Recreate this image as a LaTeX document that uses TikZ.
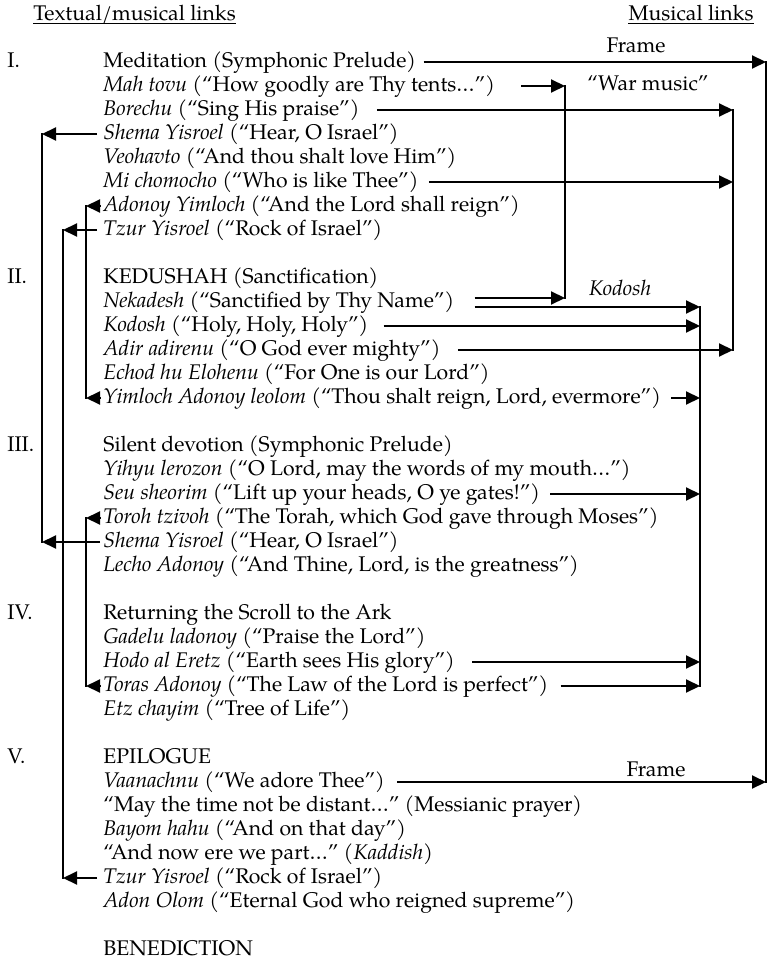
\documentclass[tikz,border=0pt]{standalone}
\usepackage{fontspec}
\setmainfont{TeX Gyre Pagella}
\usetikzlibrary{arrows.meta}
\begin{document}
\begin{tikzpicture}[x=0.5pt,y=-0.5pt,
  txt/.style={anchor=west,inner sep=0pt,text height=7.95pt,text depth=2.65pt,font=\fontsize{10.6}{12.5}\selectfont},
  lab/.style={inner sep=0pt,font=\fontsize{10.6}{12.5}\selectfont},
  ln/.style={line width=1pt,line cap=rect},
  arr/.style={line width=1pt,-{Triangle[length=7pt,width=6.5pt]}},
  uline/.style={line width=0.5pt}
]
\path[use as bounding box] (0,0) rectangle (769,962);
% headers
\node[txt] (hL) at (33,15) {Textual/musical links};
\node[txt,anchor=east] (hR) at (754,15) {Musical links};
\draw[uline] ([yshift=-1.7pt]hL.base west) -- ([yshift=-1.7pt]hL.base east);
\draw[uline] ([yshift=-1.7pt]hR.base west) -- ([yshift=-1.7pt]hR.base east);
% roman numerals
\node[txt] (nI) at (7,62) {I.};
\node[txt] (nII) at (7,278) {II.};
\node[txt] (nIII) at (7,446) {III.};
\node[txt] (nIV) at (7,614) {IV.};
\node[txt] (nV) at (7,758) {V.};
% text lines
\node[txt] (med) at (103,62) {Meditation (Symphonic Prelude)};
\node[txt] (mah) at (103,86) {\textit{Mah tovu} (“How goodly are Thy tents…”)};
\node[txt] (bor) at (103,110) {\textit{Borechu} (“Sing His praise”)};
\node[txt] (shA) at (103,134) {\textit{Shema Yisroel} (“Hear, O Israel”)};
\node[txt] (veo) at (103,158) {\textit{Veohavto} (“And thou shalt love Him”)};
\node[txt] (mi) at (103,182) {\textit{Mi chomocho} (“Who is like Thee”)};
\node[txt] (adY) at (103,206) {\textit{Adonoy Yimloch} (“And the Lord shall reign”)};
\node[txt] (tzA) at (103,230) {\textit{Tzur Yisroel} (“Rock of Israel”)};
\node[txt] (ked) at (103,278) {KEDUSHAH (Sanctification)};
\node[txt] (nek) at (103,302) {\textit{Nekadesh} (“Sanctified by Thy Name”)};
\node[txt] (kod) at (103,326) {\textit{Kodosh} (“Holy, Holy, Holy”)};
\node[txt] (adir) at (103,350) {\textit{Adir adirenu} (“O God ever mighty”)};
\node[txt] (echod) at (103,374) {\textit{Echod hu Elohenu} (“For One is our Lord”)};
\node[txt] (yiml) at (103,398) {\textit{Yimloch Adonoy leolom} (“Thou shalt reign, Lord, evermore”)};
\node[txt] (sil) at (103,446) {Silent devotion (Symphonic Prelude)};
\node[txt] (yih) at (103,470) {\textit{Yihyu lerozon} (“O Lord, may the words of my mouth…”)};
\node[txt] (seu) at (103,494) {\textit{Seu sheorim} (“Lift up your heads, O ye gates!”)};
\node[txt] (tor) at (103,518) {\textit{Toroh tzivoh} (“The Torah, which God gave through Moses”)};
\node[txt] (shB) at (103,542) {\textit{Shema Yisroel} (“Hear, O Israel”)};
\node[txt] (lec) at (103,566) {\textit{Lecho Adonoy} (“And Thine, Lord, is the greatness”)};
\node[txt] (ret) at (103,614) {Returning the Scroll to the Ark};
\node[txt] (gad) at (103,638) {\textit{Gadelu ladonoy} (“Praise the Lord”)};
\node[txt] (hodo) at (103,662) {\textit{Hodo al Eretz} (“Earth sees His glory”)};
\node[txt] (toras) at (103,686) {\textit{Toras Adonoy} (“The Law of the Lord is perfect”)};
\node[txt] (etz) at (103,710) {\textit{Etz chayim} (“Tree of Life”)};
\node[txt] (epi) at (103,758) {EPILOGUE};
\node[txt] (vaa) at (103,782) {\textit{Vaanachnu} (“We adore Thee”)};
\node[txt] (may) at (103,806) {“May the time not be distant…” (Messianic prayer)};
\node[txt] (bay) at (103,830) {\textit{Bayom hahu} (“And on that day”)};
\node[txt] (now) at (103,854) {“And now ere we part…” (\textit{Kaddish})};
\node[txt] (tzB) at (103,878) {\textit{Tzur Yisroel} (“Rock of Israel”)};
\node[txt] (adon) at (103,902) {\textit{Adon Olom} (“Eternal God who reigned supreme”)};
\node[txt] (ben) at (103,950) {BENEDICTION};
% labels on the right
\node[lab,anchor=base] (frT) at (636,53) {Frame};
\node[lab,anchor=base] (frB) at (656,776) {Frame};
\node[lab,anchor=base] (war) at (648,91) {“War music”};
\node[lab,anchor=base] (kodl) at (620,296) {\textit{Kodosh}};
% vertical guide coordinates
\coordinate (F) at (766,0);
\coordinate (W) at (565,0);
\coordinate (K) at (700,0);
\coordinate (B) at (733,0);
\coordinate (LA) at (42,0);
\coordinate (LB) at (63,0);
\coordinate (LC) at (86,0);
\coordinate (nekU) at ([yshift=2pt]nek.east);
\coordinate (nekL) at ([yshift=-2.5pt]nek.east);
% Frame
\draw[arr] ([xshift=3.5pt]med.east) -- (med.east -| F);
\draw[arr] ([xshift=6pt]vaa.east) -- (vaa.east -| F);
\draw[ln] (med.east -| F) -- (vaa.east -| F);
% War music
\draw[arr] ([xshift=13pt]mah.east) -- (mah.east -| W);
\draw[arr] ([xshift=10pt]nekU) -- (nekU -| W);
\draw[ln] (mah.east -| W) -- (nekU -| W);
% Kodosh
\draw[arr] ([xshift=10pt]nekL) -- (nekL -| K);
\draw[arr] ([xshift=7.5pt]kod.east) -- (kod.east -| K);
\draw[arr] ([xshift=5pt]yiml.east) -- (yiml.east -| K);
\draw[arr] ([xshift=5pt]seu.east) -- (seu.east -| K);
\draw[arr] ([xshift=8.5pt]hodo.east) -- (hodo.east -| K);
\draw[arr] ([xshift=6pt]toras.east) -- (toras.east -| K);
\draw[ln] (nekL -| K) -- (toras.east -| K);
% Borechu group
\draw[arr] ([xshift=8.5pt]bor.east) -- (bor.east -| B);
\draw[arr] ([xshift=5pt]mi.east) -- (mi.east -| B);
\draw[arr] ([xshift=8.5pt]adir.east) -- (adir.east -| B);
\draw[ln] (bor.east -| B) -- (adir.east -| B);
% left: Shema
\draw[arr] ([xshift=-3pt]shA.west) -- (shA.west -| LA);
\draw[arr] ([xshift=-1.5pt]shB.west) -- (shB.west -| LA);
\draw[ln] (shA.west -| LA) -- (shB.west -| LA);
% left: Tzur
\draw[arr] ([xshift=-3pt]tzA.west) -- (tzA.west -| LB);
\draw[arr] ([xshift=-3pt]tzB.west) -- (tzB.west -| LB);
\draw[ln] (tzA.west -| LB) -- (tzB.west -| LB);
% left: Adonoy Yimloch
\draw[arr] ([xshift=-1.5pt]adY.west) -- (adY.west -| LC);
\draw[arr] ([xshift=-1.5pt]yiml.west) -- (yiml.west -| LC);
\draw[ln] (adY.west -| LC) -- (yiml.west -| LC);
% left: Torah
\draw[arr] ([xshift=-1.5pt]tor.west) -- (tor.west -| LC);
\draw[arr] ([xshift=-1.5pt]toras.west) -- (toras.west -| LC);
\draw[ln] (tor.west -| LC) -- (toras.west -| LC);
\end{tikzpicture}
\end{document}
